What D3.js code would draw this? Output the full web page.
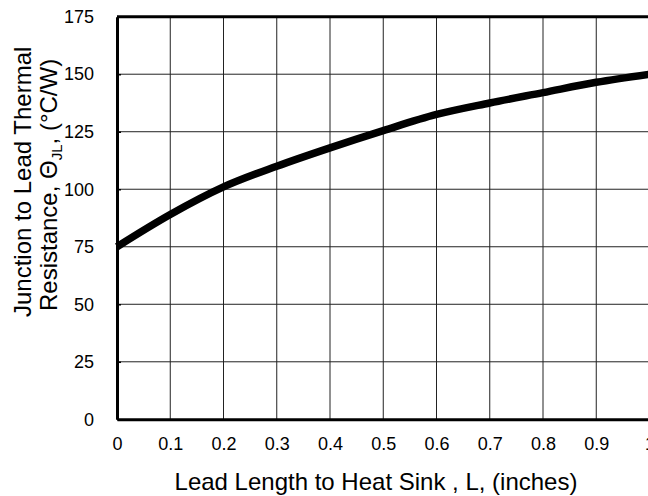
<!DOCTYPE html>
<html>
<head>
<meta charset="utf-8">
<script src="https://cdn.jsdelivr.net/npm/d3@7"></script>
<style>
  body { margin: 0; background: #fff; }
  svg { display: block; font-family: "Liberation Sans", Arial, sans-serif; }
</style>
</head>
<body>
<div id="visualization"></div>
<script>
// Data
var leadLength = [0, 0.1, 0.2, 0.3, 0.4, 0.5, 0.6, 0.7, 0.8, 0.9, 1.0];
var resistance = [75, 89, 101, 110, 118, 125.5, 132.5, 137.5, 142, 146.5, 150];
var xTicks = [0, 0.1, 0.2, 0.3, 0.4, 0.5, 0.6, 0.7, 0.8, 0.9, 1];
var yTicks = [0, 25, 50, 75, 100, 125, 150, 175];

var margin = { top: 16.7, right: -1.5, bottom: 76.7, left: 117 },
    width = 648 - margin.left - margin.right,
    height = 496 - margin.top - margin.bottom;

var svg = d3.select("#visualization")
    .append("svg")
    .attr("width", 648)
    .attr("height", 496);

var g = svg.append("g")
    .attr("transform", "translate(" + margin.left + "," + margin.top + ")");

var x = d3.scaleLinear().domain([0, 1]).range([0, width]);
var y = d3.scaleLinear().domain([0, 175]).range([height, 0]);

// grid
g.append("g").selectAll("line")
    .data(xTicks.slice(1, -1))
    .enter().append("line")
    .attr("x1", function(d) { return x(d); })
    .attr("x2", function(d) { return x(d); })
    .attr("y1", 0)
    .attr("y2", height)
    .attr("stroke", "#222")
    .attr("stroke-width", 1);

g.append("g").selectAll("line")
    .data(yTicks.slice(1, -1))
    .enter().append("line")
    .attr("x1", 0)
    .attr("x2", width)
    .attr("y1", function(d) { return y(d); })
    .attr("y2", function(d) { return y(d); })
    .attr("stroke", "#222")
    .attr("stroke-width", 1);

// axes
var xAxis = g.append("g")
    .attr("transform", "translate(0," + height + ")")
    .call(d3.axisBottom(x).tickValues(xTicks).tickSize(0).tickPadding(18)
        .tickFormat(function(d) { return d === 1 ? "1" : d3.format(".1f")(d).replace(/^0\.0$/, "0"); }));

var yAxis = g.append("g")
    .call(d3.axisLeft(y).tickValues(yTicks).tickSizeInner(-4).tickSizeOuter(0).tickPadding(23));

[xAxis, yAxis].forEach(function(a) {
    a.select(".domain").attr("stroke", "#000").attr("stroke-width", 3);
    a.selectAll("text").attr("font-size", "18px").attr("fill", "#000")
        .attr("font-family", "'Liberation Sans', Arial, sans-serif");
    a.selectAll(".tick line").attr("stroke", "#000").attr("stroke-width", 1.5);
});
xAxis.selectAll("text").attr("dy", "0.71em");

// top border
g.append("line")
    .attr("x1", 0).attr("x2", width)
    .attr("y1", 0).attr("y2", 0)
    .attr("stroke", "#000").attr("stroke-width", 3);

// curve
var line = d3.line()
    .x(function(d, i) { return x(leadLength[i]); })
    .y(function(d) { return y(d); })
    .curve(d3.curveMonotoneX);

g.append("path")
    .datum(resistance)
    .attr("fill", "none")
    .attr("stroke", "#000")
    .attr("stroke-width", 7.5)
    .attr("d", line);

// axis titles
svg.append("text")
    .attr("x", 376)
    .attr("y", 490)
    .attr("text-anchor", "middle")
    .attr("font-size", "24px")
    .text("Lead Length to Heat Sink , L, (inches)");

svg.append("text")
    .attr("transform", "translate(31,317) rotate(-90)")
    .attr("font-size", "24px")
    .text("Junction to Lead Thermal");

var t2 = svg.append("text")
    .attr("transform", "translate(57,311) rotate(-90)")
    .attr("font-size", "24px");
t2.append("tspan").text("Resistance, \u0398");
t2.append("tspan").attr("font-size", "15px").attr("dy", "5").text("JL");
t2.append("tspan").attr("dy", "-5").text(",  (\u00B0C/W)");
</script>
</body>
</html>
